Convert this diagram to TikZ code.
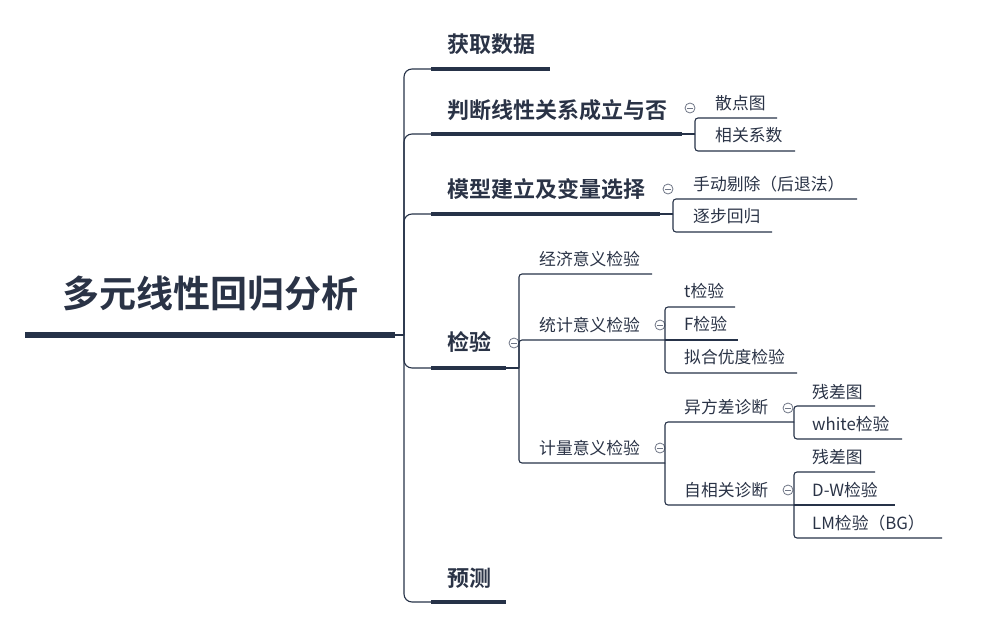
\documentclass[tikz,border=0pt]{standalone}
\usepackage{fontspec}
\setmainfont{Noto Sans CJK SC}[BoldFont={Noto Sans CJK SC Bold}]
\definecolor{navy}{HTML}{263248}
\definecolor{txt}{HTML}{2A3346}
\definecolor{gr}{HTML}{6F7686}
\begin{document}
\begin{tikzpicture}[x=1pt,y=-1pt,
 line/.style={draw=navy,line width=1.1pt},
 trunk/.style={line,rounded corners=8pt},
 twig/.style={line,rounded corners=3pt},
 thickline/.style={draw=navy,line width=4.5pt},
 rootline/.style={draw=navy,line width=5.5pt},
 root/.style={anchor=center,inner sep=0,font=\fontsize{37}{40}\selectfont\bfseries,text=txt},
 main/.style={anchor=west,inner sep=0,font=\fontsize{22}{24}\selectfont\bfseries,text=txt},
 sub/.style={anchor=west,inner sep=0,font=\fontsize{16.8}{20}\selectfont,text=txt},
 fold/.style={circle,draw=gr,line width=0.8pt,fill=white,minimum size=10pt,inner sep=0,
   path picture={\draw[gr,line width=0.8pt] ([xshift=-2.8pt]path picture bounding box.center) -- ([xshift=2.8pt]path picture bounding box.center);}},
]
\useasboundingbox (0,0) rectangle (991,627);

% root
\node[root] (r) at (210,294) {多元线性回归分析};
\coordinate (ra) at (25,335);
\coordinate (rb) at (395,335);
\coordinate (rc) at (404,335);
\draw[rootline] (ra) -- (rb);
\draw[line] (rb) -- (rc);

% branch 1
\node[main] (m1) at (447,44) {获取数据};
\coordinate (b1a) at (431,69); \coordinate (b1b) at (550,69);
\draw[trunk] (rc) |- (b1a);
\draw[thickline] (b1a) -- (b1b);

% branch 2
\node[main] (m2) at (447,110) {判断线性关系成立与否};
\coordinate (b2a) at (431,134); \coordinate (b2b) at (682,134); \coordinate (b2c) at (695,134);
\draw[trunk] (rc) |- (b2a);
\draw[thickline] (b2a) -- (b2b);
\draw[line] (b2b) -- (b2c);
\coordinate (s21) at (777,118); \coordinate (s22) at (795,151);
\draw[twig] (b2c) |- (s21);
\draw[twig] (b2c) |- (s22);
\node[sub] (n21) at (715,103) {散点图};
\node[sub] (n22) at (715,135) {相关系数};
\node[fold] (f2) at (690,108) {};

% branch 3
\node[main] (m3) at (447,189) {模型建立及变量选择};
\coordinate (b3a) at (431,214); \coordinate (b3b) at (660,214); \coordinate (b3c) at (673,214);
\draw[trunk] (rc) |- (b3a);
\draw[thickline] (b3a) -- (b3b);
\draw[line] (b3b) -- (b3c);
\coordinate (s31) at (857,199); \coordinate (s32) at (772,232);
\draw[twig] (b3c) |- (s31);
\draw[twig] (b3c) |- (s32);
\node[sub] (n31) at (693,184) {手动剔除（后退法）};
\node[sub] (n32) at (693,216) {逐步回归};
\node[fold] (f3) at (668,189) {};

% branch 4
\node[main] (m4) at (447,342) {检验};
\coordinate (b4a) at (431,368); \coordinate (b4b) at (506,368); \coordinate (b4c) at (519,368);
\draw[trunk] (rc) |- (b4a);
\draw[thickline] (b4a) -- (b4b);
\draw[line] (b4b) -- (b4c);
\node[fold] (f4) at (514,343) {};

\coordinate (s41) at (652,274);
\draw[twig] (b4c) |- (s41);
\node[sub] (n41) at (539,259) {经济意义检验};

\coordinate (s42) at (665,340);
\draw[twig] (b4c) |- (s42);
\node[sub] (n42) at (539,325) {统计意义检验};
\node[fold] (f42) at (660,325) {};
\coordinate (t1) at (735,307); \coordinate (t2) at (738,340); \coordinate (t3) at (797,373);
\draw[twig] (s42) |- (t1);
\draw[line] (s42) -- (t2);
\draw[twig] (s42) |- (t3);
\node[sub] (nt1) at (684,291) {t检验};
\node[sub] (nt2) at (684,324) {F检验};
\node[sub] (nt3) at (684,357) {拟合优度检验};

\coordinate (s43) at (665,463);
\draw[twig] (b4c) |- (s43);
\node[sub] (n43) at (539,448) {计量意义检验};
\node[fold] (f43) at (660,448) {};

\coordinate (u1) at (794,422); \coordinate (u2) at (794,505);
\draw[twig] (s43) |- (u1);
\draw[twig] (s43) |- (u2);
\node[sub] (nu1) at (684,407) {异方差诊断};
\node[sub] (nu2) at (684,490) {自相关诊断};
\node[fold] (fu1) at (788,408) {};
\node[fold] (fu2) at (788,490) {};

\coordinate (v1) at (875,406); \coordinate (v2) at (902,439);
\draw[twig] (u1) |- (v1);
\draw[twig] (u1) |- (v2);
\node[sub] (nv1) at (812,392) {残差图};
\node[sub] (nv2) at (812,424) {white检验};

\coordinate (w1) at (875,472); \coordinate (w2) at (895,505); \coordinate (w3) at (942,538);
\draw[twig] (u2) |- (w1);
\draw[line] (u2) -- (w2);
\draw[twig] (u2) |- (w3);
\node[sub] (nw1) at (812,457) {残差图};
\node[sub] (nw2) at (812,490) {D-W检验};
\node[sub] (nw3) at (812,523) {LM检验（BG）};

% branch 5
\node[main] (m5) at (447,578) {预测};
\coordinate (b5a) at (431,602); \coordinate (b5b) at (506,602);
\draw[trunk] (rc) |- (b5a);
\draw[thickline] (b5a) -- (b5b);
\end{tikzpicture}
\end{document}
